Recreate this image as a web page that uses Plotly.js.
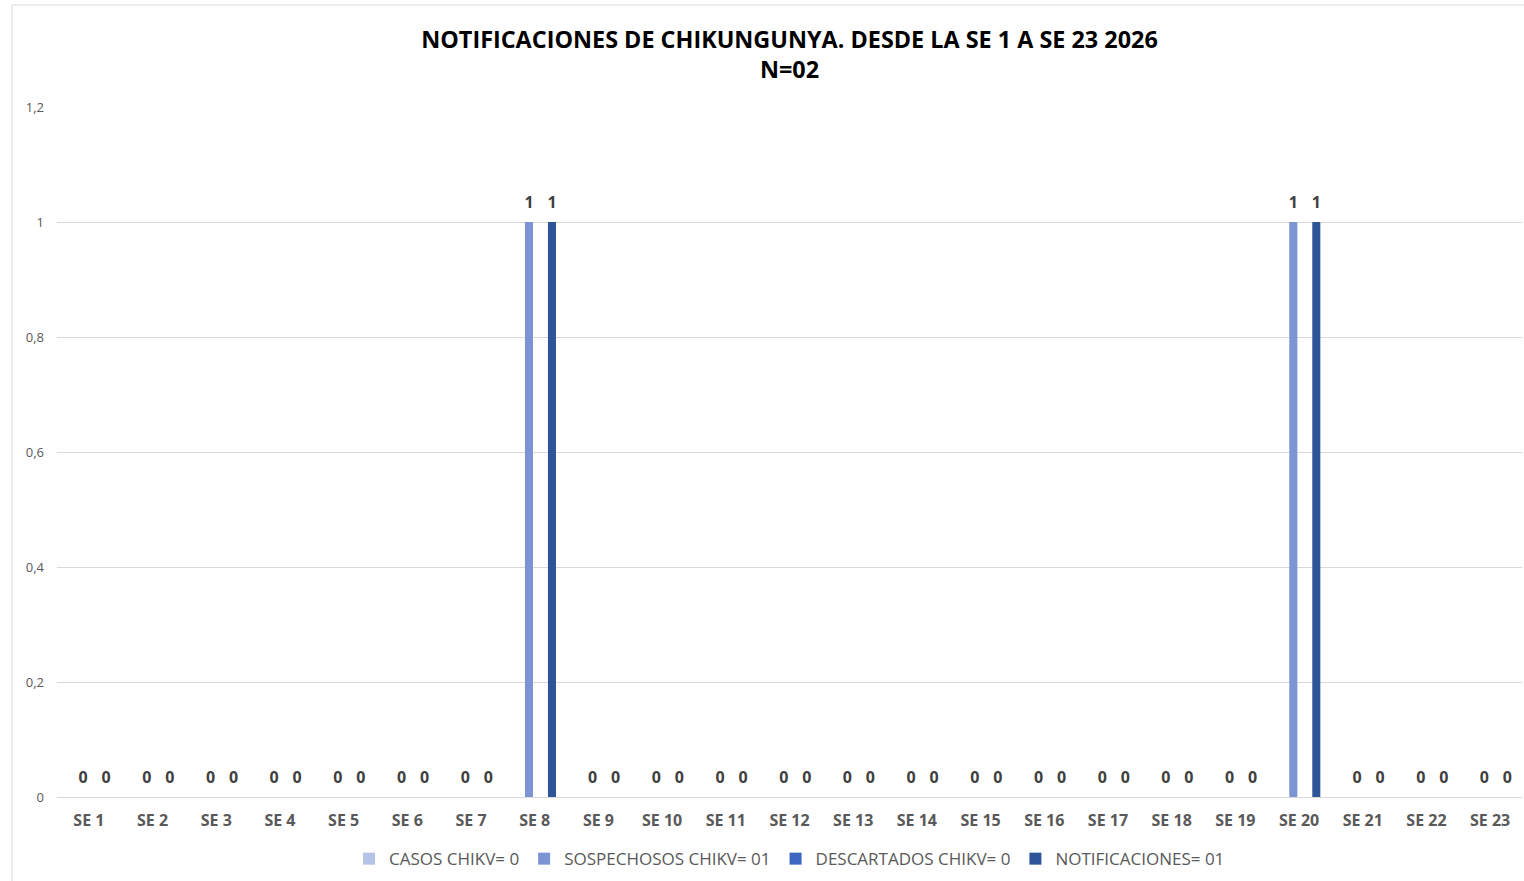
<!DOCTYPE html>
<html>
<head>
<meta charset="utf-8">
<script src="https://cdn.plot.ly/plotly-3.0.1.min.js"></script>
<style>html,body{margin:0;padding:0;background:#fff;}#chart{width:1524px;height:881px;}</style>
</head>
<body>
<div id="chart"></div>
<script>
const categories = ["SE 1","SE 2","SE 3","SE 4","SE 5","SE 6","SE 7","SE 8","SE 9","SE 10","SE 11","SE 12","SE 13","SE 14","SE 15","SE 16","SE 17","SE 18","SE 19","SE 20","SE 21","SE 22","SE 23"];
const casos        = [0,0,0,0,0,0,0,0,0,0,0,0,0,0,0,0,0,0,0,0,0,0,0];
const sospechosos  = [0,0,0,0,0,0,0,1,0,0,0,0,0,0,0,0,0,0,0,1,0,0,0];
const descartados  = [0,0,0,0,0,0,0,0,0,0,0,0,0,0,0,0,0,0,0,0,0,0,0];
const notificaciones = [0,0,0,0,0,0,0,1,0,0,0,0,0,0,0,0,0,0,0,1,0,0,0];
const seriesNames = ["CASOS CHIKV= 0","SOSPECHOSOS CHIKV= 01","DESCARTADOS CHIKV= 0","NOTIFICACIONES= 01"];
const yTicks = [0,0.2,0.4,0.6,0.8,1,1.2];

const FONT = "Open Sans, Liberation Sans, sans-serif";
const labelFont = {family: FONT, size: 7, color: "#404040", weight: 700};

function bar(name, y, color, labels) {
  const t = {type: "bar", name: name, x: categories, y: y, marker: {color: color}, hoverinfo: "x+y"};
  if (labels) {
    t.text = y.map(v => "<span style='font-size:16px'>" + String(v) + "</span><br> ");
    t.textposition = "outside";
    t.constraintext = "none";
    t.textfont = labelFont;
    t.cliponaxis = false;
  }
  return t;
}

const data = [
  bar(seriesNames[0], casos, "#B4C2E5", false),
  bar(seriesNames[1], sospechosos, "#7C94D3", true),
  bar(seriesNames[2], descartados, "#3D66C1", false),
  bar(seriesNames[3], notificaciones, "#2E5597", true)
];

const layout = {
  width: 1524, height: 881,
  paper_bgcolor: "#ffffff", plot_bgcolor: "#ffffff",
  margin: {l: 57, r: 2, t: 107, b: 84, autoexpand: false},
  separators: ",.",
  font: {family: FONT, color: "#595959"},
  title: {
    text: "<b>NOTIFICACIONES DE CHIKUNGUNYA. DESDE LA SE 1 A SE 23 2026<br>N=02</b>",
    font: {family: FONT, size: 23.4, color: "#000000"},
    x: 0.5, xanchor: "center", y: 0.946, yanchor: "middle", xref: "paper"
  },
  barmode: "group",
  bargap: 0.278,
  bargroupgap: 0.3,
  xaxis: {
    type: "category", automargin: false,
    tickfont: {family: FONT, size: 16, color: "#595959", weight: 700},
    showgrid: false, showline: false, ticks: "", zeroline: false,
    ticklabelstandoff: 12
  },
  yaxis: {
    range: [0, 1.2], automargin: false,
    tickvals: yTicks,
    tickformat: ",.1~f",
    tickfont: {family: FONT, size: 13, color: "#595959"},
    showgrid: true, gridcolor: "#D9D9D9", gridwidth: 1,
    zeroline: true, zerolinecolor: "#D9D9D9", zerolinewidth: 1,
    showline: false, ticks: "", ticklabelstandoff: 12
  },
  showlegend: true,
  legend: {
    orientation: "h", x: 0.5, xanchor: "center", y: -0.09, yanchor: "middle",
    font: {family: FONT, size: 17, color: "#595959"},
    itemwidth: 30, traceorder: "normal"
  },
  shapes: [{
    type: "rect", xref: "paper", yref: "paper",
    x0: -0.0307, x1: 1.01, y0: -0.15, y1: 1.1478,
    line: {color: "#D9D9D9", width: 1}, fillcolor: "rgba(0,0,0,0)", layer: "below"
  }]
};

Plotly.newPlot("chart", data, layout, {displayModeBar: false, staticPlot: true});
</script>
</body>
</html>
